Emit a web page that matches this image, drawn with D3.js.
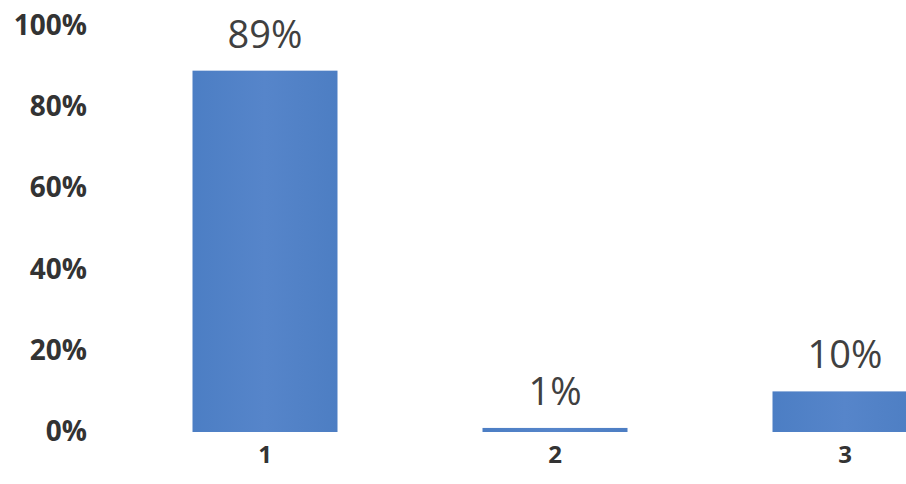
<!DOCTYPE html>
<html>
<head>
<meta charset="utf-8">
<script src="https://cdn.jsdelivr.net/npm/d3@7"></script>
<style>
  html, body { margin: 0; padding: 0; background: #fff; overflow: hidden; }
  svg { display: block; }
</style>
</head>
<body>
<svg id="chart" width="906" height="484"></svg>
<script>
const categories = ["1", "2", "3"];
const values = [0.89, 0.01, 0.10];
const valueLabels = ["89%", "1%", "10%"];
const yTicks = [0, 0.2, 0.4, 0.6, 0.8, 1.0];

const svg = d3.select("#chart");

const x = d3.scaleBand()
  .domain(categories)
  .range([120, 990])
  .paddingInner(0.5)
  .paddingOuter(0.25);

const y = d3.scaleLinear().domain([0, 1]).range([432, 26]);

const defs = svg.append("defs");
const grad = defs.append("linearGradient").attr("id", "barGrad")
  .attr("x1", "0").attr("x2", "1").attr("y1", "0").attr("y2", "0");
grad.append("stop").attr("offset", "0%").attr("stop-color", "#4c7ec4");
grad.append("stop").attr("offset", "50%").attr("stop-color", "#5685ca");
grad.append("stop").attr("offset", "100%").attr("stop-color", "#4d7ec3");

// y axis labels
const yAxis = d3.axisLeft(y)
  .tickValues(yTicks)
  .tickFormat(d3.format(".0%"))
  .tickSize(0)
  .tickPadding(0);
const ya = svg.append("g").attr("transform", "translate(87,0)").call(yAxis);
ya.select(".domain").remove();
ya.selectAll("text")
  .attr("font-family", "'Open Sans', sans-serif")
  .attr("font-weight", "bold")
  .attr("font-size", 28)
  .attr("fill", "#333333")
  .attr("dy", "0.3em");

// bars
svg.selectAll("rect.bar")
  .data(values)
  .join("rect")
  .attr("class", "bar")
  .attr("x", (d, i) => x(categories[i]))
  .attr("width", x.bandwidth())
  .attr("y", d => y(d))
  .attr("height", d => y(0) - y(d))
  .attr("fill", "url(#barGrad)");

// value labels
svg.selectAll("text.val")
  .data(values)
  .join("text")
  .attr("class", "val")
  .attr("x", (d, i) => x(categories[i]) + x.bandwidth() / 2)
  .attr("y", d => y(d) - 23)
  .attr("text-anchor", "middle")
  .attr("font-family", "'Open Sans', sans-serif")
  .attr("font-size", 38)
  .attr("fill", "#404040")
  .text((d, i) => valueLabels[i]);

// x axis labels
const xAxis = d3.axisBottom(x).tickSize(0).tickPadding(0);
const xa = svg.append("g").attr("transform", "translate(0,455)").call(xAxis);
xa.select(".domain").remove();
xa.selectAll("text")
  .attr("font-family", "'Open Sans', sans-serif")
  .attr("font-weight", "bold")
  .attr("font-size", 24)
  .attr("fill", "#333333")
  .attr("dy", "0.35em");
</script>
</body>
</html>
